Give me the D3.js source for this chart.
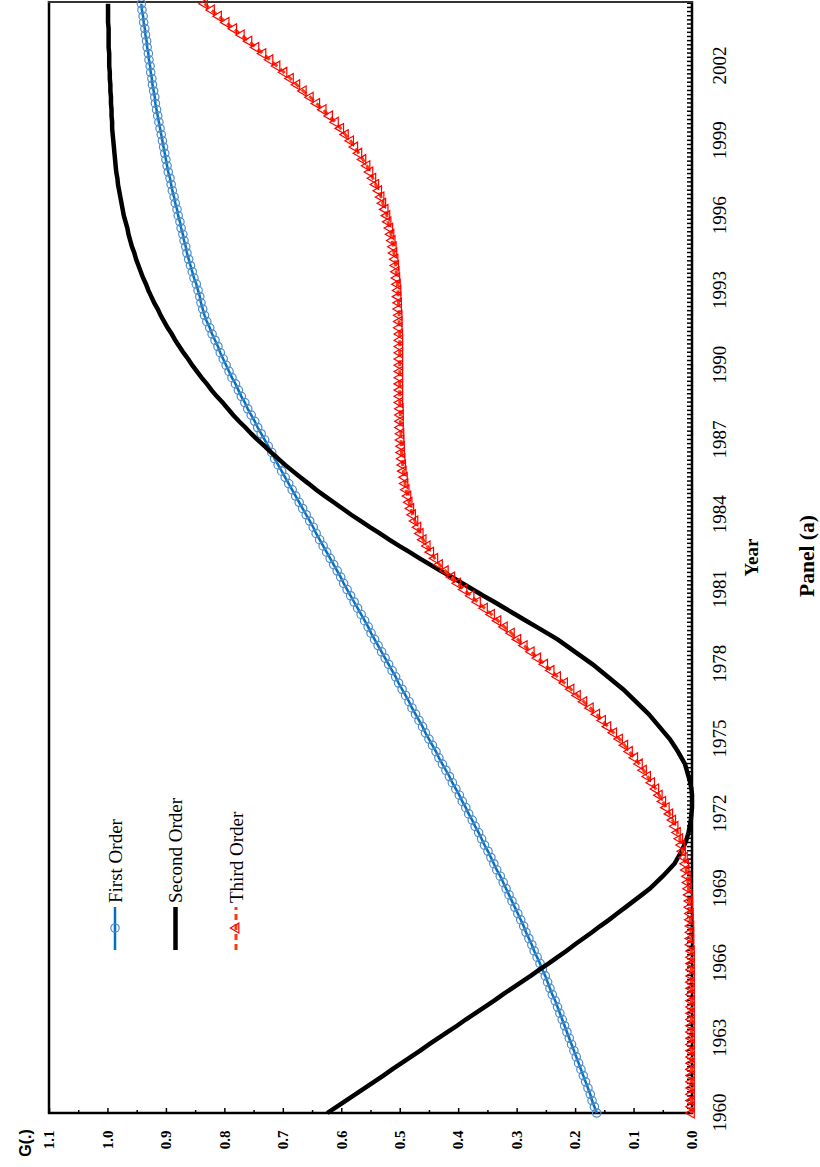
<!DOCTYPE html>
<html>
<head>
<meta charset="utf-8">
<script src="https://cdn.jsdelivr.net/npm/d3@7"></script>
<style>
  body { margin: 0; background: #fff; }
</style>
</head>
<body>
<div id="chart"></div>
<script>
// quarterly observations, 1960Q1 .. 2004Q3
var years = d3.range(179).map(function (i) { return 1960 + i * 0.25; });

var firstOrder = [
  0.163, 0.167, 0.171, 0.174, 0.178, 0.182, 0.186, 0.190, 0.194, 0.198, 0.202, 0.206,
  0.210, 0.214, 0.218, 0.222, 0.226, 0.230, 0.234, 0.239, 0.243, 0.247, 0.251, 0.256,
  0.260, 0.265, 0.270, 0.274, 0.279, 0.284, 0.288, 0.293, 0.298, 0.303, 0.308, 0.313,
  0.318, 0.323, 0.328, 0.334, 0.339, 0.344, 0.349, 0.355, 0.360, 0.365, 0.371, 0.376,
  0.382, 0.387, 0.393, 0.398, 0.404, 0.410, 0.415, 0.421, 0.427, 0.433, 0.438, 0.444,
  0.450, 0.456, 0.461, 0.467, 0.473, 0.479, 0.484, 0.490, 0.496, 0.502, 0.507, 0.513,
  0.519, 0.525, 0.531, 0.537, 0.543, 0.549, 0.554, 0.560, 0.566, 0.572, 0.578, 0.584,
  0.590, 0.596, 0.601, 0.607, 0.613, 0.619, 0.625, 0.631, 0.637, 0.643, 0.648, 0.654,
  0.660, 0.666, 0.672, 0.678, 0.684, 0.690, 0.696, 0.702, 0.708, 0.714, 0.719, 0.725,
  0.731, 0.737, 0.743, 0.748, 0.754, 0.760, 0.765, 0.771, 0.776, 0.781, 0.787, 0.792,
  0.797, 0.802, 0.807, 0.811, 0.816, 0.821, 0.825, 0.830, 0.834, 0.837, 0.840, 0.842,
  0.845, 0.848, 0.852, 0.855, 0.858, 0.861, 0.864, 0.866, 0.869, 0.871, 0.874, 0.876,
  0.879, 0.881, 0.884, 0.886, 0.889, 0.891, 0.893, 0.896, 0.898, 0.900, 0.902, 0.904,
  0.906, 0.908, 0.910, 0.912, 0.914, 0.916, 0.918, 0.919, 0.921, 0.923, 0.924, 0.926,
  0.927, 0.929, 0.930, 0.932, 0.933, 0.935, 0.936, 0.938, 0.939, 0.941, 0.942
];

var secondOrder = [
  0.624, 0.608, 0.592, 0.576, 0.560, 0.544, 0.528, 0.513, 0.497, 0.481, 0.465, 0.450,
  0.434, 0.418, 0.402, 0.387, 0.371, 0.355, 0.339, 0.324, 0.308, 0.292, 0.276, 0.261,
  0.245, 0.230, 0.215, 0.201, 0.186, 0.171, 0.157, 0.142, 0.128, 0.114, 0.100, 0.086,
  0.072, 0.061, 0.050, 0.040, 0.030, 0.024, 0.018, 0.013, 0.009, 0.006, 0.004, 0.002,
  0.001, 0.000, 0.000, 0.000, 0.001, 0.003, 0.006, 0.009, 0.012, 0.018, 0.024, 0.031,
  0.038, 0.047, 0.056, 0.065, 0.074, 0.085, 0.096, 0.107, 0.118, 0.131, 0.144, 0.157,
  0.170, 0.185, 0.200, 0.215, 0.230, 0.248, 0.266, 0.284, 0.302, 0.320, 0.338, 0.357,
  0.375, 0.393, 0.411, 0.430, 0.448, 0.466, 0.483, 0.501, 0.518, 0.534, 0.551, 0.567,
  0.583, 0.598, 0.613, 0.628, 0.643, 0.656, 0.670, 0.683, 0.696, 0.708, 0.720, 0.731,
  0.743, 0.754, 0.764, 0.775, 0.785, 0.794, 0.803, 0.813, 0.822, 0.830, 0.839, 0.847,
  0.855, 0.862, 0.870, 0.877, 0.884, 0.890, 0.897, 0.903, 0.909, 0.914, 0.920, 0.925,
  0.930, 0.934, 0.939, 0.943, 0.947, 0.951, 0.954, 0.958, 0.961, 0.964, 0.966, 0.969,
  0.972, 0.974, 0.976, 0.978, 0.980, 0.982, 0.983, 0.985, 0.986, 0.987, 0.988, 0.989,
  0.990, 0.991, 0.992, 0.992, 0.993, 0.993, 0.994, 0.994, 0.995, 0.995, 0.996, 0.996,
  0.997, 0.997, 0.997, 0.998, 0.998, 0.998, 0.998, 0.999, 0.999, 0.999, 0.999
];

var thirdOrder = [
  0.001, 0.001, 0.001, 0.001, 0.001, 0.001, 0.001, 0.001, 0.001, 0.001, 0.001, 0.001,
  0.001, 0.001, 0.001, 0.001, 0.001, 0.001, 0.001, 0.001, 0.001, 0.001, 0.001, 0.001,
  0.001, 0.001, 0.001, 0.002, 0.002, 0.002, 0.002, 0.003, 0.003, 0.004, 0.004, 0.005,
  0.006, 0.007, 0.008, 0.010, 0.011, 0.013, 0.016, 0.018, 0.021, 0.025, 0.029, 0.033,
  0.038, 0.044, 0.050, 0.056, 0.062, 0.069, 0.076, 0.083, 0.090, 0.098, 0.107, 0.115,
  0.124, 0.134, 0.144, 0.153, 0.163, 0.174, 0.185, 0.196, 0.207, 0.218, 0.230, 0.241,
  0.252, 0.264, 0.275, 0.287, 0.298, 0.309, 0.321, 0.332, 0.343, 0.355, 0.367, 0.378,
  0.390, 0.401, 0.411, 0.422, 0.432, 0.440, 0.447, 0.453, 0.460, 0.465, 0.469, 0.474,
  0.478, 0.481, 0.484, 0.486, 0.489, 0.491, 0.492, 0.494, 0.495, 0.496, 0.497, 0.497,
  0.498, 0.498, 0.499, 0.499, 0.499, 0.499, 0.500, 0.500, 0.500, 0.500, 0.500, 0.500,
  0.500, 0.500, 0.500, 0.500, 0.500, 0.500, 0.501, 0.501, 0.501, 0.502, 0.502, 0.503,
  0.503, 0.504, 0.505, 0.506, 0.507, 0.508, 0.510, 0.511, 0.513, 0.515, 0.517, 0.520,
  0.522, 0.525, 0.529, 0.532, 0.536, 0.541, 0.546, 0.551, 0.556, 0.563, 0.570, 0.577,
  0.584, 0.593, 0.601, 0.610, 0.620, 0.631, 0.642, 0.653, 0.665, 0.676, 0.687, 0.698,
  0.710, 0.722, 0.734, 0.746, 0.758, 0.771, 0.784, 0.797, 0.810, 0.822, 0.834
];

var gTicks = [0, 0.1, 0.2, 0.3, 0.4, 0.5, 0.6, 0.7, 0.8, 0.9, 1.0, 1.1];
var gMinor = [0.05, 0.15, 0.25, 0.35, 0.45, 0.55, 0.65, 0.75, 0.85, 0.95, 1.05];
var yearLabels = [1960, 1963, 1966, 1969, 1972, 1975, 1978, 1981, 1984, 1987, 1990, 1993, 1996, 1999, 2002];
var yearMinor = d3.range(269).map(function (i) { return 1960 + i / 6; });
var seriesNames = ["First Order", "Second Order", "Third Order"];

// the whole figure is printed turned a quarter turn, so draw it flat and rotate
var svg = d3.select("#chart").append("svg")
    .attr("width", 820)
    .attr("height", 1167);

var g = svg.append("g").attr("transform", "translate(0,1167) rotate(-90)");

var x = d3.scaleLinear().domain([1960, 2004.57]).range([54, 1165]);
var y = d3.scaleLinear().domain([0, 1.1]).range([692, 49]);

var serif = "'Liberation Serif', 'Times New Roman', serif";

// year axis ticks
g.append("g")
    .attr("transform", "translate(0,692)")
    .call(d3.axisBottom(x).tickValues(yearMinor).tickSize(-5).tickFormat(""))
    .call(function (a) {
        a.select(".domain").remove();
        a.selectAll("line").attr("stroke", "#000").attr("stroke-width", 1.5);
    });

g.append("g")
    .attr("transform", "translate(0,692)")
    .call(d3.axisBottom(x).tickValues(yearLabels).tickSize(0).tickPadding(20.5).tickFormat(d3.format("d")))
    .call(function (a) {
        a.select(".domain").remove();
        a.selectAll("text").attr("font-family", serif).attr("font-size", 19).attr("fill", "#000");
    });

// G axis
g.append("g")
    .attr("transform", "translate(54,0)")
    .call(d3.axisLeft(y).tickValues(gMinor).tickSize(-3).tickFormat(""))
    .call(function (a) {
        a.select(".domain").remove();
        a.selectAll("line").attr("stroke", "#000").attr("stroke-width", 1.5);
    });

g.append("g")
    .attr("transform", "translate(54,0)")
    .call(d3.axisLeft(y).tickValues(gTicks).tickSize(-5).tickPadding(17.5).tickFormat(d3.format(".1f")))
    .call(function (a) {
        a.select(".domain").remove();
        a.selectAll("line").attr("stroke", "#000").attr("stroke-width", 1.5);
        a.selectAll("text").attr("font-family", serif).attr("font-weight", "bold")
            .attr("font-size", 15).attr("fill", "#000");
    });

// frame
g.append("line").attr("x1", 53).attr("x2", 1166).attr("y1", 692).attr("y2", 692)
    .attr("stroke", "#000").attr("stroke-width", 2.5);
g.append("line").attr("x1", 54).attr("x2", 54).attr("y1", 48).attr("y2", 693)
    .attr("stroke", "#000").attr("stroke-width", 2.5);
g.append("line").attr("x1", 53).attr("x2", 1166).attr("y1", 49).attr("y2", 49)
    .attr("stroke", "#000").attr("stroke-width", 2.5);
g.append("line").attr("x1", 1165).attr("x2", 1165).attr("y1", 48).attr("y2", 693)
    .attr("stroke", "#333").attr("stroke-width", 2);

function rows(vals) {
    return vals.map(function (v, i) { return { year: years[i], val: v }; });
}

var line = d3.line()
    .x(function (d) { return x(d.year); })
    .y(function (d) { return y(d.val); });

// first order
g.append("path")
    .datum(rows(firstOrder))
    .attr("d", line)
    .attr("fill", "none")
    .attr("stroke", "#0070C0")
    .attr("stroke-width", 2.5);

g.append("g").selectAll("circle")
    .data(rows(firstOrder))
    .enter()
    .append("circle")
    .attr("cx", function (d) { return x(d.year); })
    .attr("cy", function (d) { return y(d.val); })
    .attr("r", 4.2)
    .attr("fill", "none")
    .attr("stroke", "#4F8CCB")
    .attr("stroke-width", 1.2);

// second order
g.append("path")
    .datum(rows(secondOrder))
    .attr("d", line)
    .attr("fill", "none")
    .attr("stroke", "#000")
    .attr("stroke-width", 4.5);

// third order
g.append("path")
    .datum(rows(thirdOrder))
    .attr("d", line)
    .attr("fill", "none")
    .attr("stroke", "#FF3A0A")
    .attr("stroke-width", 3)
    .attr("stroke-dasharray", "6,4");

var tri = d3.symbol().type(d3.symbolTriangle).size(42);

g.append("g").selectAll("path")
    .data(rows(thirdOrder))
    .enter()
    .append("path")
    .attr("d", tri)
    .attr("transform", function (d) { return "translate(" + x(d.year) + "," + y(d.val) + ")"; })
    .attr("fill", "none")
    .attr("stroke", "#FF0000")
    .attr("stroke-width", 1.2);

// legend
var legendRows = [115, 175.5, 236];
var lg = g.append("g");

lg.append("line").attr("x1", 217).attr("x2", 260).attr("y1", legendRows[0]).attr("y2", legendRows[0])
    .attr("stroke", "#0070C0").attr("stroke-width", 2.5);
lg.append("circle").attr("cx", 239).attr("cy", legendRows[0]).attr("r", 4.2)
    .attr("fill", "none").attr("stroke", "#4F8CCB").attr("stroke-width", 1.2);

lg.append("line").attr("x1", 217).attr("x2", 260).attr("y1", legendRows[1]).attr("y2", legendRows[1])
    .attr("stroke", "#000").attr("stroke-width", 4.5);

lg.append("line").attr("x1", 217).attr("x2", 260).attr("y1", legendRows[2]).attr("y2", legendRows[2])
    .attr("stroke", "#FF3A0A").attr("stroke-width", 3).attr("stroke-dasharray", "6,4");
lg.append("path").attr("d", tri)
    .attr("transform", "translate(239," + legendRows[2] + ")")
    .attr("fill", "none").attr("stroke", "#FF0000").attr("stroke-width", 1.2);

lg.selectAll("text")
    .data(seriesNames)
    .enter()
    .append("text")
    .attr("x", 264)
    .attr("y", function (d, i) { return legendRows[i]; })
    .attr("dy", "0.35em")
    .attr("font-family", serif)
    .attr("font-size", 19)
    .text(function (d) { return d; });

// titles
g.append("text")
    .attr("x", 609.5).attr("y", 758)
    .attr("text-anchor", "middle")
    .attr("font-family", serif).attr("font-weight", "bold").attr("font-size", 19)
    .text("Year");

g.append("text")
    .attr("x", 611).attr("y", 814)
    .attr("text-anchor", "middle")
    .attr("font-family", serif).attr("font-weight", "bold").attr("font-size", 21.5)
    .text("Panel (a)");

g.append("text")
    .attr("x", 24).attr("y", 31)
    .attr("text-anchor", "middle")
    .attr("font-family", "'Liberation Sans', Arial, sans-serif").attr("font-weight", "bold").attr("font-size", 16)
    .text("G(.)");
</script>
</body>
</html>
